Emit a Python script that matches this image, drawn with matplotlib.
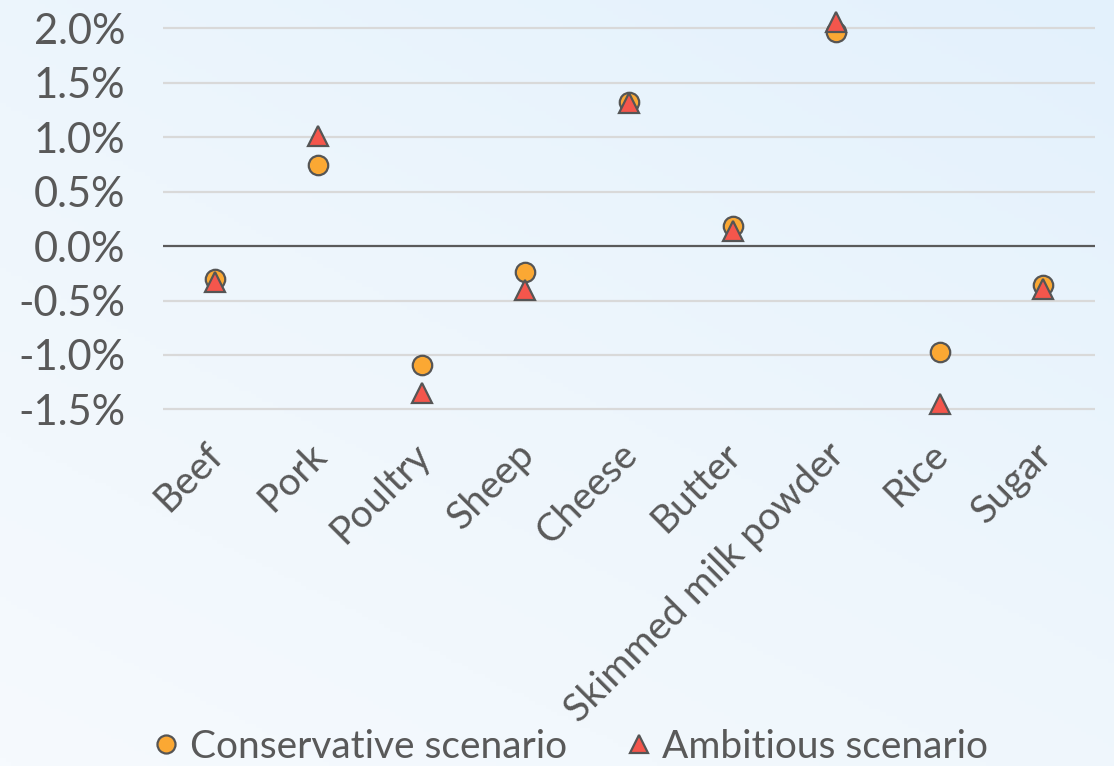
import matplotlib
matplotlib.use("Agg")
import numpy as np
import matplotlib.pyplot as plt
from matplotlib.colors import LinearSegmentedColormap
from matplotlib.lines import Line2D
import matplotlib.transforms as mtransforms

# Change in price by product under two scenarios (%)
products = ["Beef", "Pork", "Poultry", "Sheep", "Cheese", "Butter",
            "Skimmed milk powder", "Rice", "Sugar"]
conservative = [-0.30, 0.74, -1.09, -0.24, 1.32, 0.18, 1.96, -0.97, -0.36]
ambitious = [-0.33, 1.01, -1.35, -0.40, 1.31, 0.14, 2.06, -1.45, -0.39]
yticks = [-1.5, -1.0, -0.5, 0.0, 0.5, 1.0, 1.5, 2.0]

plt.rcParams["font.family"] = ["Lato", "DejaVu Sans"]
plt.rcParams["axes.unicode_minus"] = False

W, H = 1114, 766
fig = plt.figure(figsize=(W / 100, H / 100), dpi=100)

# soft diagonal background gradient
bg = fig.add_axes([0, 0, 1, 1], zorder=-10)
gx, gy = np.meshgrid(np.linspace(0, 1, 200), np.linspace(0, 1, 200))
grad = np.clip(0.55 * gx + 0.75 * gy, 0, 1.3) / 1.3
cmap = LinearSegmentedColormap.from_list("bgc", ["#f6fafe", "#eef6fc", "#e3f1fc"])
bg.imshow(grad, cmap=cmap, origin="lower", extent=[0, 1, 0, 1], aspect="auto")
bg.set_axis_off()

left, right, top, bottom = 163, 1095, 15, 440
ax = fig.add_axes([left / W, 1 - bottom / H, (right - left) / W, (bottom - top) / H])
ax.patch.set_alpha(0)

x = np.arange(len(products))
ax.set_xlim(-0.5, len(products) - 0.5)
ax.set_ylim(-1.78, 2.12)

for yv in yticks:
    if yv == 0:
        ax.axhline(0, color="#5a5a5a", lw=1.6, zorder=1)
    else:
        ax.axhline(yv, color="#d9d9d9", lw=1.6, zorder=1)

ax.plot(x, conservative, ls="none", marker="o", ms=14, mfc="#fba833",
        mec="#555555", mew=1.6, zorder=3, clip_on=False)
ax.plot(x, ambitious, ls="none", marker="^", ms=14, mfc="#f4564c",
        mec="#555555", mew=1.6, zorder=4, clip_on=False)

ax.set_yticks(yticks)
ax.set_yticklabels([f"{v:.1f}%" for v in yticks])
ax.tick_params(axis="y", length=0, pad=27, labelsize=30, labelcolor="#595959")
ax.set_xticks(x)
ax.set_xticklabels(products)
ax.tick_params(axis="x", length=0, pad=3, labelsize=28, labelcolor="#595959")
offset = mtransforms.ScaledTranslation(-10 / 100, 8 / 100, fig.dpi_scale_trans)
for lab in ax.get_xticklabels():
    lab.set_rotation(45)
    lab.set_ha("right")
    lab.set_va("top")
    lab.set_rotation_mode("anchor")
    lab.set_transform(lab.get_transform() + offset)

for s in ax.spines.values():
    s.set_visible(False)

handles = [
    Line2D([], [], ls="none", marker="o", ms=13, mfc="#fba833", mec="#555555", mew=1.6),
    Line2D([], [], ls="none", marker="^", ms=13, mfc="#f4564c", mec="#555555", mew=1.6),
]
fig.legend(handles, ["Conservative scenario", "Ambitious scenario"],
           loc="center", bbox_to_anchor=(0.513, 1 - 747 / H), ncol=2,
           frameon=False, fontsize=28, labelcolor="#595959",
           handlelength=0.6, handletextpad=0.3, columnspacing=1.55,
           borderaxespad=0)

fig.savefig("out.png", dpi=100)
